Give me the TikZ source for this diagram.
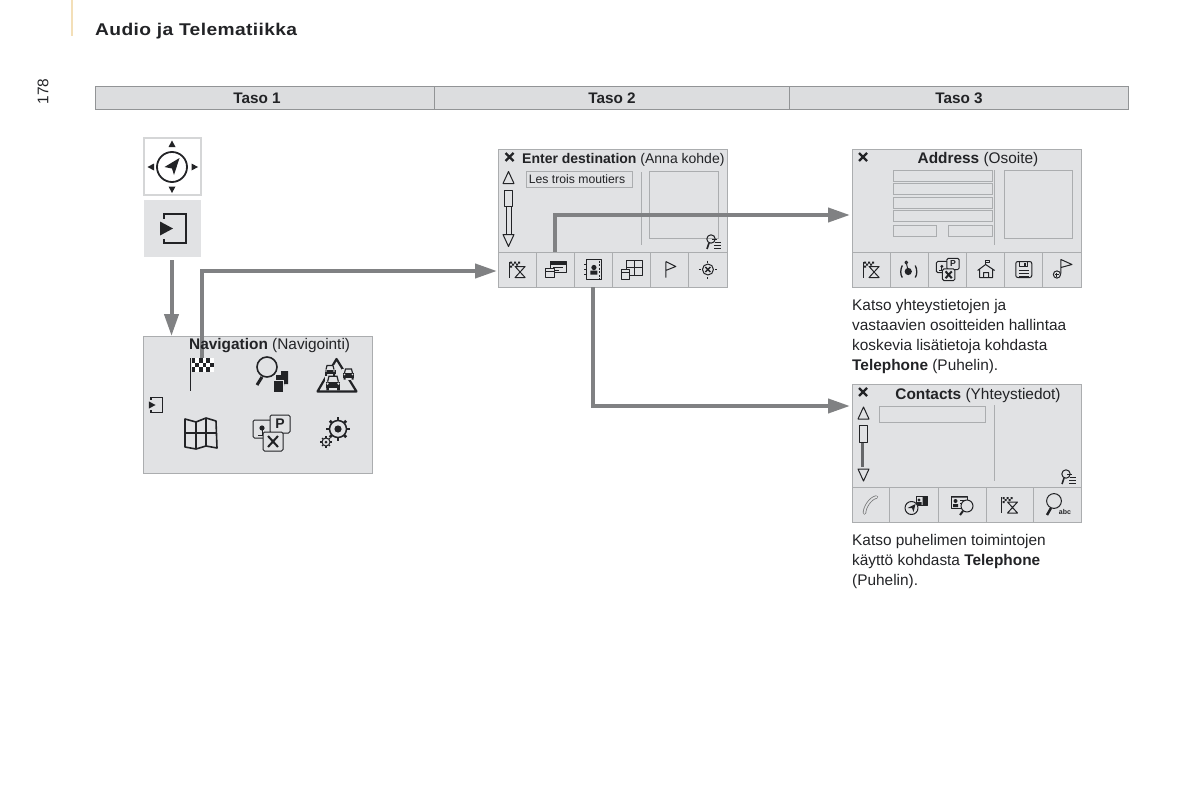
\documentclass[tikz,border=0pt]{standalone}
\usepackage{xcolor}
\usepackage{fontspec}
\usepackage{tikz}
\usetikzlibrary{arrows.meta,positioning,calc}
\setmainfont{Liberation Sans}
\newfontfamily\headfont[LetterSpace=2]{Liberation Sans}
\definecolor{m178ink}{HTML}{222326}
\definecolor{m178bar}{HTML}{DCDDDF}
\definecolor{m178panel}{HTML}{E1E2E4}
\definecolor{m178line}{HTML}{ABADAF}
\definecolor{m178edge}{HTML}{929496}
\definecolor{m178flow}{HTML}{808183}
\definecolor{m178beige}{HTML}{F3DFB8}
\tikzset{
  x=1pt, y=-1pt,
  barcell/.style  = {rectangle, draw=m178edge, fill=m178bar, line width=1pt, minimum height=22pt, inner sep=0pt},
  bartext/.style  = {font=\fontsize{15.3}{17}\selectfont\bfseries, text=m178ink, inner sep=0pt},
  panel/.style    = {rectangle, draw=m178line, fill=m178panel, line width=1pt, anchor=north west, inner sep=0pt},
  keybox/.style   = {rectangle, draw=m178line!50, fill=white, line width=1.5pt, minimum width=57pt, minimum height=57pt, inner sep=0pt},
  keyfill/.style  = {rectangle, fill=m178panel, minimum width=57pt, minimum height=57pt, inner sep=0pt},
  toolcell/.style = {rectangle, draw=m178line, fill=m178panel, line width=.8pt, minimum height=35pt, inner sep=0pt},
  field/.style    = {rectangle, draw=m178line, fill=m178panel, line width=1.2pt, anchor=north west, inner sep=0pt},
  sepline/.style  = {draw=m178line, line width=1pt},
  titletext/.style= {font=\fontsize{15.4}{17}\selectfont, text=m178ink, inner sep=0pt},
  note/.style     = {font=\fontsize{15.4}{20}\selectfont, text=m178ink, align=left, anchor=north west, inner sep=0pt},
  flow/.style     = {-{Triangle[length=22pt,width=14pt]}, line width=4pt, draw=m178flow},
  ico/.style      = {draw=m178ink, line width=1pt, line join=round},
  icob/.style     = {draw=m178ink, line width=1.6pt, line join=round},
  % close cross and scroller
  pics/closex/.style = {code={\draw[m178ink, line width=2.4pt] (-4,-4) -- (4,4) (-4,4) -- (4,-4);}},
  pics/upmark/.style = {code={\draw[ico] (-5.5,6) -- (0,-6) -- (5.5,6) -- cycle;}},
  pics/downmark/.style = {code={\draw[ico] (-5.5,-6) -- (0,6) -- (5.5,-6) -- cycle;}},
  % toolbar icons
  pics/checkhour/.style = {code={
    \draw[ico] (-8,-8) -- (-8,8);
    \fill[m178ink] (-7,-8) rectangle +(2,2) (-3,-8) rectangle +(2,2) (1,-8) rectangle +(2,2)
      (-5,-6) rectangle +(2,2) (-1,-6) rectangle +(2,2) (-7,-4) rectangle +(2,2);
    \draw[ico] (-2,-3) -- (8,-3) -- (-2,8) -- (8,8) -- cycle;}},
  pics/cardhand/.style = {code={
    \draw[ico] (-5,-8) rectangle (11,3);
    \fill[m178ink] (-5,-8) rectangle (11,-5);
    \draw[ico] (-2,-2) -- (8,-2) (-2,1) -- (4,1);
    \draw[ico, fill=m178panel] (-10,-1) rectangle (-1,8);
    \draw[ico] (-10,2) -- (-1,2);}},
  pics/bookicon/.style = {code={
    \draw[ico] (-7,-10) rectangle (8,10);
    \draw[icob] (-9,-5) -- (-6,-5) (-9,0) -- (-6,0) (-9,5) -- (-6,5);
    \fill[m178ink] (-3,5) rectangle (4,1) (0.5,-2) circle (2.6);
    \draw[icob, dash pattern=on 2pt off 1.5pt] (6,-9) -- (6,9);}},
  pics/maphand/.style = {code={
    \draw[ico] (-5,-9) -- (11,-9) -- (11,6) -- (-5,6) -- cycle (3,-9) -- (3,6) (-5,-2) -- (11,-2);
    \draw[ico, fill=m178panel] (-10,0) rectangle (-2,10);
    \draw[ico] (-10,3) -- (-2,3);}},
  pics/pennant/.style = {code={
    \draw[ico] (-4,-8) -- (-4,8) (-4,-8) -- (6,-3) -- (-4,1);}},
  pics/targetx/.style = {code={
    \draw[ico] (0,0) circle (5.5);
    \draw[m178ink, line width=1.4pt] (-2.5,-2.5) -- (2.5,2.5) (-2.5,2.5) -- (2.5,-2.5);
    \draw[ico] (0,-9) -- (0,-7) (0,9) -- (0,7) (-9,0) -- (-7,0) (9,0) -- (7,0);}},
  pics/searchlist/.style = {code={
    \draw[ico] (-3,-3) circle (4.2);
    \draw[icob] (-5,1) -- (-7,7);
    \draw[ico, line width=.7pt] (-2,-3) -- (3,-3) (1,0) -- (7,0) (0,3) -- (7,3) (0,6) -- (7,6);}},
  pics/gpsmark/.style = {code={
    \draw[ico, line width=1.3pt] (-7,-4) .. controls (-9,0) and (-9,5) .. (-7,8) (6,-4) .. controls (8,0) and (8,5) .. (6,8);
    \fill[m178ink] (-1,2) circle (3.6);
    \draw[ico] (-3,-7) -- (-1,2);
    \draw[ico] (-3,-7) circle (1.4);}},
  pics/houseicon/.style = {code={
    \draw[ico] (-6,0) -- (-6,8) -- (7,8) -- (7,0) (-8,1) -- (0,-5) -- (9,1) (-2,8) -- (-2,3) -- (3,3) -- (3,8);
    \draw[ico] (0,-5) -- (0,-9) -- (4,-9) -- (4,-7) -- (0,-7);}},
  pics/floppyicon/.style = {code={
    \draw[ico, rounded corners=2pt] (-8,-8) rectangle (8,8);
    \draw[ico] (-4,-8) -- (-4,-3) -- (4,-3) -- (4,-8) (-5,1) -- (5,1) (-5,4) -- (5,4) (-5,7) -- (5,7);
    \fill[m178ink] (0,-7) rectangle (2,-4);}},
  pics/flagplus/.style = {code={
    \draw[ico] (-1,4) -- (-1,-10) -- (10,-5) -- (-1,-2);
    \draw[ico] (-5,5) circle (3.6);
    \draw[ico] (-7,5) -- (-3,5) (-5,3) -- (-5,7);}},
  pics/phoneicon/.style = {code={
    \draw[m178line!70!black, line width=3.4pt, line cap=round] (-6,8) .. controls (-6,2) and (0,-7) .. (6,-8);
    \draw[m178panel, line width=1.8pt, line cap=round] (-6,8) .. controls (-6,2) and (0,-7) .. (6,-8);}},
  pics/navcard/.style = {code={
    \draw[ico, fill=m178panel] (3,-9) rectangle (14,0);
    \fill[m178ink] (9,-9) rectangle (14,0) (3,-3) rectangle (8,0) (5.5,-5) circle (1.6);
    \draw[ico, fill=m178panel] (-2,3) circle (6.5);
    \fill[m178ink] (-6,3) -- (2,-1) -- (0,7) -- (-1.5,3) -- cycle;}},
  pics/cardsearch/.style = {code={
    \draw[ico, fill=m178panel] (-11,-9) rectangle (5,3);
    \fill[m178ink] (-11,-9) rectangle (5,-7.5) (-9,-1) rectangle (-4,2) (-6.5,-4) circle (2);
    \draw[ico] (-2,-5) -- (4,-5) (-2,-2) -- (1,-2);
    \draw[ico, fill=m178panel] (5,1) circle (6);
    \draw[m178ink, line width=2pt] (1,6) -- (-2,10);}},
  pics/searchabc/.style = {code={
    \draw[ico] (-3,-4) circle (7.4);
    \draw[m178ink, line width=2.4pt] (-6,3) -- (-10,10);
    \node[font=\fontsize{7}{8}\selectfont\bfseries, text=m178ink, inner sep=0pt] (-abc) at (8,7) {abc};}},
  % bigger icons of the menu page
  pics/enterkey/.style = {code={
    \draw[m178ink, line width=#1] (-8,-10) -- (-8,-14.5) -- (14,-14.5) -- (14,14.5) -- (-8,14.5) -- (-8,10);
    \fill[m178ink] (-12,-7) -- (1,0) -- (-12,7) -- cycle;}},
  pics/searchstack/.style = {code={
    \draw[icob] (-8,-8) circle (10);
    \draw[m178ink, line width=3pt] (-13,2) -- (-18,10);
    \fill[m178ink] (6,-4) rectangle (13,9) (1,0) rectangle (9,11);
    \draw[m178panel, line width=.8pt, fill=m178ink] (-2,5) rectangle (8,17);}},
  pics/caricon/.style = {code={
    \fill[m178panel] (-6.2,-5.5) rectangle (6.2,5.5);
    \fill[m178ink] (-5.5,-1) rectangle (5.5,3.5);
    \draw[m178ink, line width=1.2pt] (-4,-1) -- (-3,-5) -- (3,-5) -- (4,-1);
    \fill[m178ink] (-5,3) rectangle (-3,5.5) (3,3) rectangle (5,5.5);
    \fill[m178panel] (-4,0.5) circle (0.9) (4,0.5) circle (0.9);}},
  pics/mapbig/.style = {code={
    \draw[icob] (-16,-14) -- (-5,-11) -- (5,-15) -- (15,-12) -- (16,15) -- (5,13) -- (-5,16) -- (-16,14) -- cycle;
    \draw[ico, line width=1.4pt] (-5,-11) -- (-5,16) (5,-15) -- (5,13) (-16,0) -- (16,0);}},
  pics/poicards/.style = {code={
    \draw[ico, fill=m178panel, rounded corners=1.5pt] (-18,-13) rectangle (2,5);
    \draw[ico] (-13,2) -- (-3,2) (-9,-6) -- (-9,2);
    \fill[m178ink] (-9,-5) circle (2.6);
    \draw[ico, fill=m178panel, rounded corners=1.5pt] (-1,-18) rectangle (19,0);
    \node[font=\fontsize{14}{16}\selectfont\bfseries, text=m178ink, inner sep=0pt, transform shape] (-p) at (9,-9) {P};
    \draw[ico, fill=m178panel, rounded corners=1.5pt] (-8,-1) rectangle (12,18);
    \draw[m178ink, line width=2pt] (-3,3) -- (7,14) (7,3) -- (-3,14);}},
  pics/gearbig/.style = {code={
    \foreach \a in {0,45,...,315} \draw[m178ink, line width=2.8pt] (\a:8.5) -- (\a:11.6);
    \draw[m178ink, line width=1.5pt] (0,0) circle (8.5);
    \fill[m178ink] (0,0) circle (3.6);
    \foreach \a in {0,45,...,315} \draw[m178ink, line width=1.4pt] ($(-12,13)+(\a:4)$) -- ($(-12,13)+(\a:5.6)$);
    \draw[m178ink, line width=1pt] (-12,13) circle (4);
    \fill[m178ink] (-12,13) circle (1.5);}},
}
\begin{document}
\begin{tikzpicture}
\useasboundingbox (0,0) rectangle (1200,800);
% header of the page
\draw[draw=m178beige, line width=2pt] (72,0) -- (72,36);
\node[font=\headfont\fontsize{17}{20}\selectfont\bfseries, text=m178ink, anchor=base west, inner sep=0pt, transform shape, xscale=1.13] (head) at (95,36) {Audio ja Telematiikka};
\node[font=\fontsize{15.4}{17}\selectfont, text=m178ink, rotate=90, inner sep=0pt] (pageno) at (43,91.5) {178};
\node[barcell, minimum width=339pt] (lev1) at (264.5,98) {};
\node[barcell, minimum width=355pt] (lev2) at (611.5,98) {};
\node[barcell, minimum width=339pt] (lev3) at (958.5,98) {};
\node[bartext] (lev1t) at (257,98.5) {Taso 1};
\node[bartext] (lev2t) at (612,98.5) {Taso 2};
\node[bartext] (lev3t) at (959,98.5) {Taso 3};

% first column
\node[keybox] (navkey) at (172.5,166.5) {};
\node[keyfill] (enter) at (172.5,228.5) {};
\node[panel, minimum width=229pt, minimum height=137pt] (menu) at (143,336) {};
\node[inner sep=0pt, minimum width=24pt, minimum height=14pt] (menuflag) at (202,365) {};

% second column
\node[panel, minimum width=229pt, minimum height=138pt] (dest) at (498,149) {};
\foreach \i in {1,...,6}
  \node[toolcell, minimum width=38.17pt] (dest\i) at ({498+38.17*(\i-0.5)},269.5) {};
\node[field, minimum width=106pt, minimum height=16pt] (destin) at (526,171) {};
\node[field, minimum width=69pt, minimum height=67pt] (destimg) at (649,171) {};
\draw[sepline] (641,172) -- (641,245);

% third column
\node[panel, minimum width=229pt, minimum height=138pt] (addr) at (852,149) {};
\foreach \i in {1,...,6}
  \node[toolcell, minimum width=38.17pt] (addr\i) at ({852+38.17*(\i-0.5)},269.5) {};
\foreach \i/\yy in {1/170,2/183,3/197,4/210}
  \node[field, minimum width=99pt, minimum height=11pt] (addrf\i) at (893,\yy) {};
\node[field, minimum width=43pt, minimum height=11pt] (addrf5) at (893,224.5) {};
\node[field, minimum width=44pt, minimum height=11pt] (addrf6) at (948,224.5) {};
\node[field, minimum width=68pt, minimum height=68pt] (addrimg) at (1004,170) {};
\draw[sepline] (994,170) -- (994,245);

\node[panel, minimum width=229pt, minimum height=138pt] (cont) at (852,384) {};
\foreach \i/\xx/\ww in {1/870.5/37,2/913.5/49,3/962/48,4/1009.5/47,5/1057/48}
  \node[toolcell, minimum width=\ww pt] (cont\i) at (\xx,505) {};
\node[field, minimum width=106pt, minimum height=16pt] (contin) at (879,406) {};
\draw[sepline] (994,405) -- (994,481);

% connectors
\coordinate (destin1) at (497,271);
\coordinate (addrin1) at (850,215);
\coordinate (contin1) at (850,406);
\draw[flow] (enter.south) ++(-1,3) coordinate (enterout) -- (enterout |- menu.north);
\draw[flow] (menuflag.north) |- (destin1);
\draw[flow] (dest2.north) |- (addrin1);
\draw[flow] (dest3.south) |- (contin1);

% titles
\node[titletext, anchor=west] (menut) at (189,346) {\textbf{Navigation} (Navigointi)};
\node[titletext, font=\fontsize{14}{16}\selectfont, anchor=west] (destt) at (522,159.5) {\textbf{Enter destination} (Anna kohde)};
\node[titletext] (addrt) at (978,159.5) {\textbf{Address} (Osoite)};
\node[titletext] (contt) at (978,395.5) {\textbf{Contacts} (Yhteystiedot)};
\node[font=\fontsize{12.2}{14}\selectfont, text=m178ink, inner sep=0pt] (destv) at (577,179.5) {Les trois moutiers};

% notes
\node[note] (noteaddr) at (852,299) {Katso yhteystietojen ja\\vastaavien osoitteiden hallintaa\\koskevia lisätietoja kohdasta\\\textbf{Telephone} (Puhelin).};
\node[note] (notecont) at (852,534) {Katso puhelimen toimintojen\\käyttö kohdasta \textbf{Telephone}\\(Puhelin).};

% icons: navigation key
\draw[m178ink, line width=1.8pt] (172,167) circle (15);
\fill[m178ink] (164.5,167) -- (179.5,158) -- (174,175) -- (172,168.5) -- cycle;
\fill[m178ink] (172,140.5) -- (168.5,147) -- (175.5,147) -- cycle
  (172,193) -- (168.5,186.5) -- (175.5,186.5) -- cycle
  (147.5,167) -- (154,163.5) -- (154,170.5) -- cycle
  (198,167) -- (191.5,163.5) -- (191.5,170.5) -- cycle;
\pic (enteric) at (172,228.5) {enterkey=2.4pt};

% icons: menu page
\draw[ico] (190.5,358) -- (190.5,391);
\foreach \i in {0,...,5} \foreach \j in {0,1,2} {
  \pgfmathparse{int(mod(\i+\j,2))}
  \ifnum\pgfmathresult=0 \fill[m178ink] ({191.5+\i*3.7},{358+\j*4.6}) rectangle +(3.7,4.6); \else \fill[white] ({191.5+\i*3.7},{358+\j*4.6}) rectangle +(3.7,4.6); \fi
}
\pic (srch) at (275,375) {searchstack};
\draw[m178ink, line width=2.2pt, line join=round] (336.5,359) -- (356.5,391.5) -- (317.5,391.5) -- cycle;
\pic (cara) at (330,370.5) {caricon};
\pic (carb) at (348.5,374) {caricon};
\pic[scale=1.35] (carc) at (333,383) {caricon};
\pic[scale=.52] (backic) at (155,405) {enterkey=1.4pt};
\pic (mapic) at (201,433) {mapbig};
\pic (poiic) at (271,433) {poicards};
\pic (gearic) at (338,429) {gearbig};

% icons: destination panel
\pic (dx) at (509.5,157) {closex};
\pic (du) at (508.5,177.5) {upmark};
\draw[ico] (506,206) -- (506,234) (511,206) -- (511,234);
\draw[ico, fill=m178panel] (504.5,190) rectangle (512.5,206);
\pic (dd) at (508.5,240.5) {downmark};
\pic (dl) at (714,242) {searchlist};
\pic (di1) at (dest1) {checkhour};
\pic (di2) at (dest2) {cardhand};
\pic (di3) at (dest3) {bookicon};
\pic (di4) at (dest4) {maphand};
\pic (di5) at (dest5) {pennant};
\pic (di6) at (dest6) {targetx};

% icons: address panel
\pic (ax) at (863,157) {closex};
\pic (ai1) at (addr1) {checkhour};
\pic (ai2) at (addr2) {gpsmark};
\pic[scale=.62] (ai3) at (addr3) {poicards};
\pic (ai4) at (addr4) {houseicon};
\pic (ai5) at (addr5) {floppyicon};
\pic (ai6) at (addr6) {flagplus};

% icons: contacts panel
\pic (cx) at (863,392) {closex};
\pic (cu) at (863.5,413) {upmark};
\draw[draw=m178flow!80!black, line width=2.4pt] (862.5,442) -- (862.5,467);
\draw[ico, fill=m178panel] (859,425) rectangle (867,442);
\pic (cd) at (863.5,475) {downmark};
\pic (cl) at (1069,477) {searchlist};
\pic (ci1) at (cont1) {phoneicon};
\pic (ci2) at (cont2) {navcard};
\pic (ci3) at (cont3) {cardsearch};
\pic (ci4) at (cont4) {checkhour};
\pic (ci5) at (cont5) {searchabc};
\end{tikzpicture}
\end{document}
